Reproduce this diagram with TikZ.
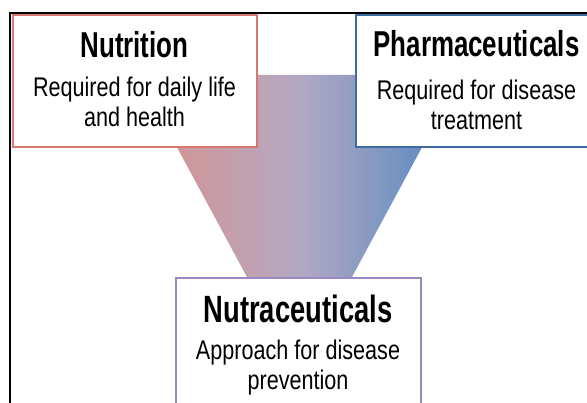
\documentclass[tikz,border=0pt]{standalone}
\usepackage{fontspec}
\newfontfamily\titlefont{Liberation Sans}[FakeStretch=0.72]
\newfontfamily\subfont{Liberation Sans}[FakeStretch=0.8]
\definecolor{nutred}{HTML}{D6786F}
\definecolor{pharmblue}{HTML}{3D6A9F}
\definecolor{nutrapurple}{HTML}{9C88C0}
\definecolor{funnelleft}{HTML}{DA918A}
\definecolor{funnelmid}{HTML}{B3A8C3}
\definecolor{funnelright}{HTML}{4F87C1}
\pgfdeclarehorizontalshading{funnelshade}{100bp}{%
  color(0bp)=(funnelleft); color(25bp)=(funnelleft);
  color(50bp)=(funnelmid);
  color(75bp)=(funnelright); color(100bp)=(funnelright)}
\tikzset{
  card/.style={draw=#1, line width=2pt, fill=white, inner sep=0pt},
  title/.style={anchor=base, inner sep=0pt, font=\titlefont\bfseries\fontsize{36}{36}\selectfont},
  sub/.style={anchor=base, inner sep=0pt, font=\subfont\fontsize{27}{27}\selectfont},
  frame/.style={draw=black, line width=1.5pt}
}
\begin{document}
\begin{tikzpicture}[x=1pt, y=-1pt]
  \useasboundingbox (0,0) rectangle (587,403);
  \clip (0,0) rectangle (587,403);
  \fill[white] (0,0) rectangle (587,403);

  % outer frame lines
  \coordinate (fbl) at (10,403);
  \coordinate (ftl) at (10,13);
  \coordinate (ftr) at (587,13);
  \draw[frame] (fbl) -- (ftl) -- (ftr);

  % funnel between the two sources and the result
  \shade[shading=funnelshade]
    (138,75) -- (461,75) -- (352,277) -- (247,277) -- cycle;

  % source boxes
  \path[card=nutred] (13,15) rectangle (257,147);
  \node[inner sep=0pt, minimum width=244pt, minimum height=132pt] (nutrition) at (135,81) {};
  \path[card=pharmblue] (356,15) rectangle (598,147);
  \node[inner sep=0pt, minimum width=242pt, minimum height=132pt] (pharma) at (477,81) {};

  % result box
  \path[card=nutrapurple] (176,278) rectangle (421,420);
  \node[inner sep=0pt, minimum width=245pt, minimum height=142pt] (nutra) at (298.5,349) {};

  % texts
  \node[title] (t1) at (134.5,58) {Nutrition};
  \node[sub] (s1a) at (134.5,97) {Required for daily life};
  \node[sub] (s1b) at (134.5,127) {and health};

  \node[title] (t2) at (476.5,57) {Pharmaceuticals};
  \node[sub] (s2a) at (476.5,100) {Required for disease};
  \node[sub] (s2b) at (476.5,130) {treatment};

  \node[title, font=\titlefont\bfseries\fontsize{38}{38}\selectfont] (t3) at (298,323) {Nutraceuticals};
  \node[sub] (s3a) at (298,360) {Approach for disease};
  \node[sub] (s3b) at (298,390) {prevention};
\end{tikzpicture}
\end{document}
